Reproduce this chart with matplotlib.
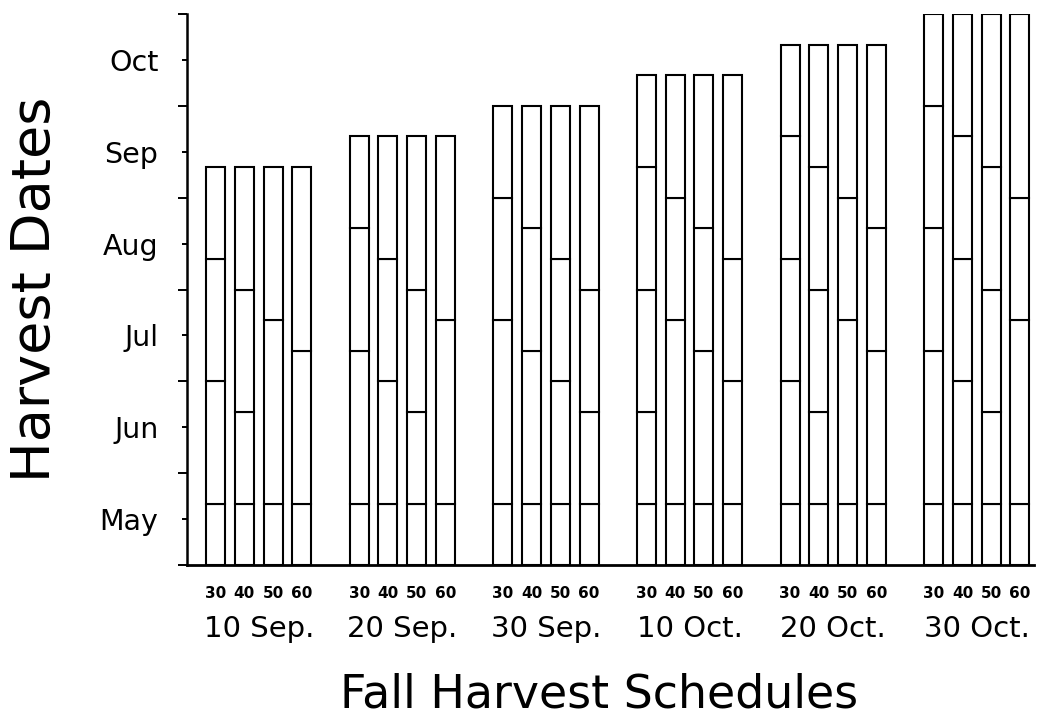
import matplotlib.pyplot as plt
import numpy as np

MONTHS = ["May", "Jun", "Jul", "Aug", "Sep", "Oct"]
intervals = ["30", "40", "50", "60"]
schedules = ["10 Sep.", "20 Sep.", "30 Sep.", "10 Oct.", "20 Oct.", "30 Oct."]

# fechas de corte de cada barra (de abajo a arriba)
cuts_10sep = [
    ["May 20", "Jun 30", "Aug 10", "Sep 10"],
    ["May 20", "Jun 20", "Jul 30", "Sep 10"],
    ["May 20", "Jul 20", "Sep 10"],
    ["May 20", "Jul 10", "Sep 10"],
]
cuts_20sep = [
    ["May 20", "Jul 10", "Aug 20", "Sep 20"],
    ["May 20", "Jun 30", "Aug 10", "Sep 20"],
    ["May 20", "Jun 20", "Jul 30", "Sep 20"],
    ["May 20", "Jul 20", "Sep 20"],
]
cuts_30sep = [
    ["May 20", "Jul 20", "Aug 30", "Sep 30"],
    ["May 20", "Jul 10", "Aug 20", "Sep 30"],
    ["May 20", "Jun 30", "Aug 10", "Sep 30"],
    ["May 20", "Jun 20", "Jul 30", "Sep 30"],
]
cuts_10oct = [
    ["May 20", "Jun 20", "Jul 30", "Sep 10", "Oct 10"],
    ["May 20", "Jul 20", "Aug 30", "Oct 10"],
    ["May 20", "Jul 10", "Aug 20", "Oct 10"],
    ["May 20", "Jun 30", "Aug 10", "Oct 10"],
]
cuts_20oct = [
    ["May 20", "Jun 30", "Aug 10", "Sep 20", "Oct 20"],
    ["May 20", "Jun 20", "Jul 30", "Sep 10", "Oct 20"],
    ["May 20", "Jul 20", "Aug 30", "Oct 20"],
    ["May 20", "Jul 10", "Aug 20", "Oct 20"],
]
cuts_30oct = [
    ["May 20", "Jul 10", "Aug 20", "Sep 30", "Oct 30"],
    ["May 20", "Jun 30", "Aug 10", "Sep 20", "Oct 30"],
    ["May 20", "Jun 20", "Jul 30", "Sep 10", "Oct 30"],
    ["May 20", "Jul 20", "Aug 30", "Oct 30"],
]
all_cuts = [cuts_10sep, cuts_20sep, cuts_30sep, cuts_10oct, cuts_20oct, cuts_30oct]


def date_pos(s):
    # eje en periodos de 10 dias desde el 1 de mayo
    m, d = s.split()
    return MONTHS.index(m) * 3 + int(d) / 10


FONT = "DejaVu Sans"

fig, ax = plt.subplots(figsize=(10.5, 7.18), dpi=100)
fig.subplots_adjust(left=0.178, right=0.985, bottom=0.213, top=0.9805)

bar_x = []
for g, cuts in enumerate(all_cuts):
    for b, dates in enumerate(cuts):
        x = g * 5 + b - 1.5
        bar_x.append(x)
        prev = 0
        for d in dates:
            y = date_pos(d)
            ax.bar(x, y - prev, bottom=prev, width=0.66, color="white",
                   edgecolor="black", linewidth=1.5, zorder=2)
            prev = y

ax.set_xlim(-2.5, 27.0)
ax.set_ylim(0, 18)

for side in ("top", "right"):
    ax.spines[side].set_visible(False)
ax.spines["left"].set_linewidth(1.8)
ax.spines["bottom"].set_linewidth(2.0)

ax.set_yticks(np.arange(len(MONTHS)) * 3 + 1.5, MONTHS, fontsize=20.5, family=FONT)
ax.set_yticks(np.arange(0, 19, 3), minor=True)
ax.tick_params(axis="y", which="major", length=3.5, width=1.4, pad=17)
ax.tick_params(axis="y", which="minor", length=6.5, width=1.4)

ax.set_xticks(bar_x, intervals * len(schedules), fontsize=11, fontweight="bold", family=FONT)
ax.tick_params(axis="x", length=0, pad=15)

for g, name in enumerate(schedules):
    ax.annotate(name, xy=(g * 5, 0), xycoords=("data", "axes fraction"),
                xytext=(0, -46), textcoords="offset points", ha="center", va="center",
                fontsize=21, family=FONT)

ax.set_xlabel("Fall Harvest Schedules", fontsize=33, family=FONT)
ax.xaxis.set_label_coords(0.486, -0.195)
ax.set_ylabel("Harvest Dates", fontsize=39, family=FONT, labelpad=28)

fig.savefig("out.png", dpi=100)
